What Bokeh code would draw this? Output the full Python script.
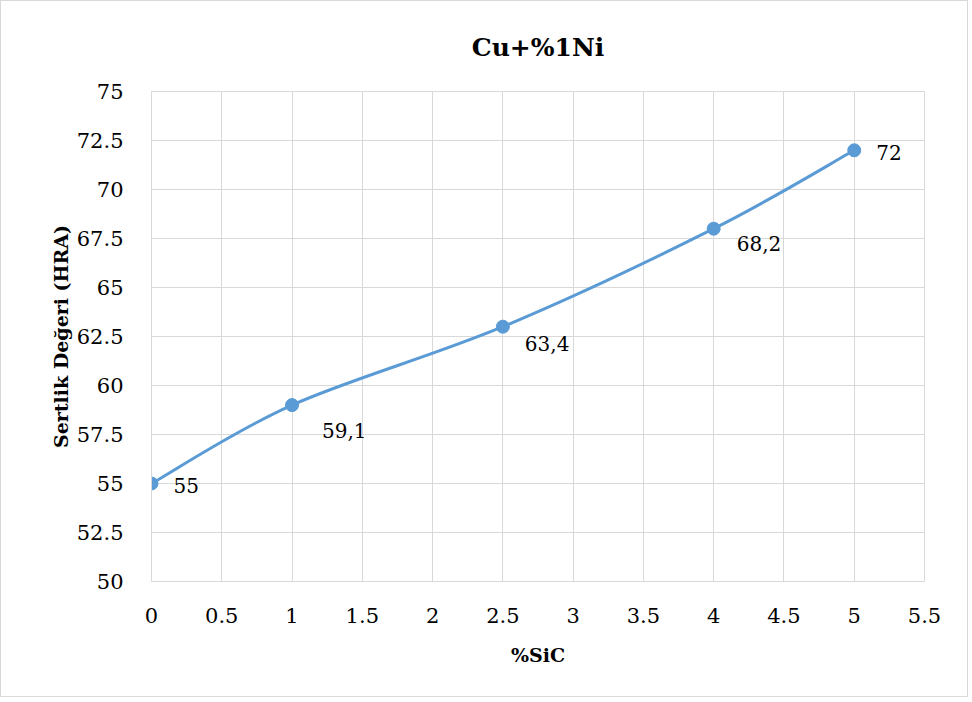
import numpy as np
from bokeh.plotting import figure
from bokeh.models import ColumnDataSource, FixedTicker, NumeralTickFormatter, Range1d
from bokeh.core.properties import value
from bokeh.embed import file_html
from bokeh.resources import INLINE

# ---- data ----
sic = [0, 1, 2.5, 4, 5]
hardness = [55, 59, 63, 68, 72]
point_labels = ["55", "59,1", "63,4", "68,2", "72"]
x_ticks = [0, 0.5, 1, 1.5, 2, 2.5, 3, 3.5, 4, 4.5, 5, 5.5]
y_ticks = [50, 52.5, 55, 57.5, 60, 62.5, 65, 67.5, 70, 72.5, 75]
title_text = "Cu+%1Ni"
x_title = "%SiC"
y_title = "Sertlik Değeri (HRA)"

# label placement (screen pixel offsets, +dy = down)
label_dx = [22, 30, 22, 23, 22]
label_dy = [2, 25, 17, 15, 2]

FONT = "DejaVu Serif"
BLUE = "#5b9bd5"
GRID = "#d9d9d9"

p = figure(width=968, height=697, output_backend="svg", toolbar_location=None,
           x_range=Range1d(0, 5.5), y_range=Range1d(50, 75),
           min_border_left=150, min_border_right=45, min_border_top=89, min_border_bottom=117)

p.title.text = title_text
p.title.align = "center"
p.title.text_font = FONT
p.title.text_font_size = "25px"
p.title.text_font_style = "bold"
p.title.text_color = "#000000"
p.title.standoff = 59

p.outline_line_color = GRID
p.styles = {"border": "1px solid #d9d9d9"}

for ax, ticks in ((p.xaxis[0], x_ticks), (p.yaxis[0], y_ticks)):
    ax.ticker = FixedTicker(ticks=ticks)
    ax.formatter = NumeralTickFormatter(format="0.[0]")
    ax.major_label_text_font = FONT
    ax.major_label_text_font_size = "21px"
    ax.major_label_text_color = "#000000"
    ax.major_tick_line_color = None
    ax.minor_tick_line_color = None
    ax.axis_line_color = GRID
    ax.axis_label_text_font = FONT
    ax.axis_label_text_font_size = "19px"
    ax.axis_label_text_font_style = "bold"
    ax.axis_label_text_color = "#000000"

p.xaxis.axis_label = x_title
p.yaxis.axis_label = y_title
p.xaxis.major_label_standoff = 20
p.yaxis.major_label_standoff = 22
p.xaxis.axis_label_standoff = 18
p.yaxis.axis_label_standoff = 2

p.xgrid.ticker = FixedTicker(ticks=x_ticks)
p.ygrid.ticker = FixedTicker(ticks=y_ticks)
p.grid.grid_line_color = GRID
p.grid.grid_line_width = 1

# smoothed (Catmull-Rom style) curve through the data points
xs = np.array(sic, dtype=float)
ys = np.array(hardness, dtype=float)
xp = np.concatenate([[xs[0]], xs, [xs[-1]]])
yp = np.concatenate([[ys[0]], ys, [ys[-1]]])
n = len(xs)
bez = dict(x0=[], y0=[], x1=[], y1=[], cx0=[], cy0=[], cx1=[], cy1=[])
for i in range(n - 1):
    j = i + 1
    bez["x0"].append(xp[j]); bez["y0"].append(yp[j])
    bez["x1"].append(xp[j + 1]); bez["y1"].append(yp[j + 1])
    bez["cx0"].append(xp[j] + (xp[j + 1] - xp[j - 1]) / 6)
    bez["cy0"].append(yp[j] + (yp[j + 1] - yp[j - 1]) / 6)
    bez["cx1"].append(xp[j + 1] - (xp[j + 2] - xp[j]) / 6)
    bez["cy1"].append(yp[j + 1] - (yp[j + 2] - yp[j]) / 6)
p.bezier(source=ColumnDataSource(bez), x0="x0", y0="y0", x1="x1", y1="y1",
         cx0="cx0", cy0="cy0", cx1="cx1", cy1="cy1",
         line_color=BLUE, line_width=3)

src = ColumnDataSource(dict(x=sic, y=hardness, lab=point_labels, dx=label_dx, dy=label_dy))
p.scatter("x", "y", source=src, size=13, fill_color=BLUE, line_color=BLUE)
p.text("x", "y", text="lab", source=src, x_offset="dx", y_offset="dy",
       text_font=value(FONT), text_font_size="20px", text_color="#000000",
       text_baseline="middle", text_align="left")

open("out.html", "w").write(file_html(p, INLINE))
